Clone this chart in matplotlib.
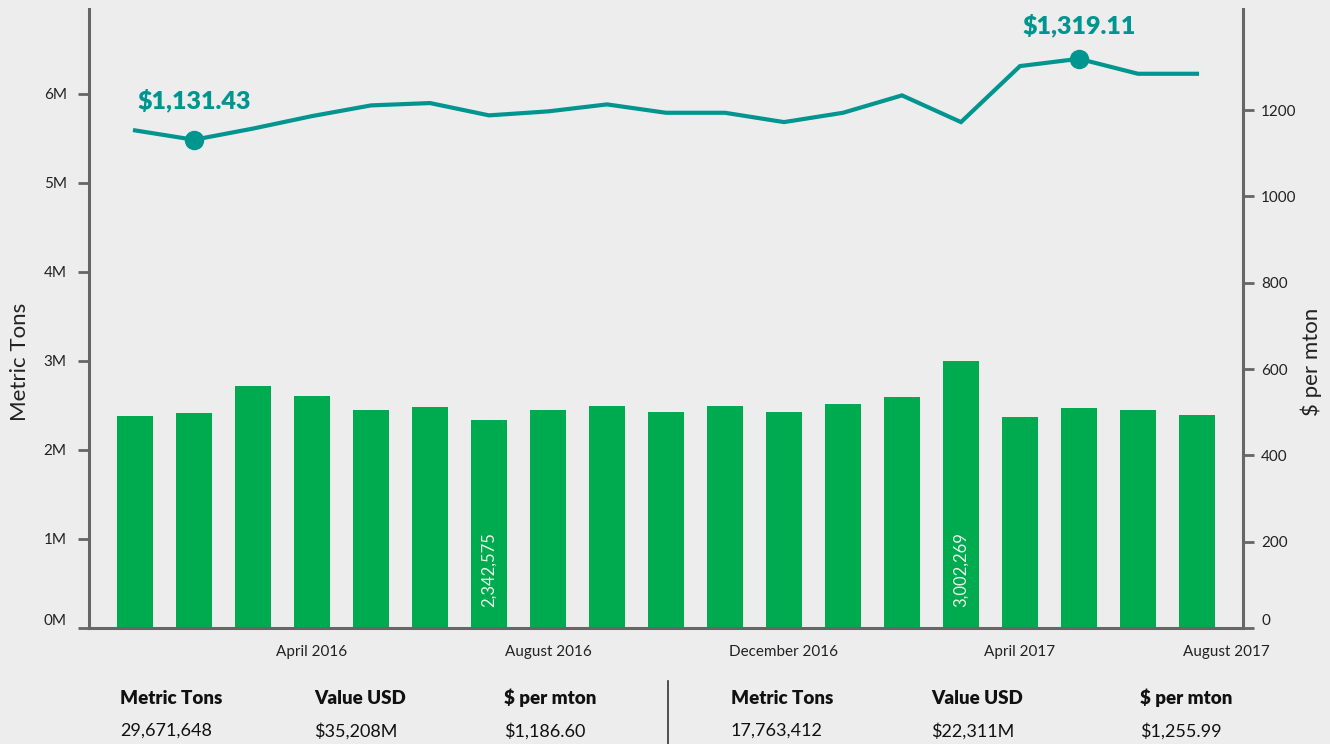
import matplotlib
matplotlib.use('Agg')
import matplotlib.pyplot as plt
import numpy as np

plt.rcParams['font.family'] = ['Lato', 'DejaVu Sans']

# monthly data, Jan 2016 - Jul 2017
months = ['Jan 2016', 'Feb 2016', 'Mar 2016', 'Apr 2016', 'May 2016', 'Jun 2016',
          'Jul 2016', 'Aug 2016', 'Sep 2016', 'Oct 2016', 'Nov 2016', 'Dec 2016',
          'Jan 2017', 'Feb 2017', 'Mar 2017', 'Apr 2017', 'May 2017', 'Jun 2017', 'Jul 2017']
metric_tons = [2382000, 2416000, 2719000, 2607000, 2449000, 2483000, 2342575, 2449000,
               2494000, 2427000, 2494000, 2427000, 2517000, 2596000, 3002269, 2371000,
               2472000, 2449000, 2393000]
price_per_mton = [1153.2, 1131.43, 1157.4, 1186.3, 1211.1, 1216.5, 1188.0, 1197.2, 1213.4,
                  1194.0, 1194.0, 1172.4, 1194.0, 1234.3, 1172.4, 1302.2, 1319.11, 1284.4, 1284.4]

tick_labels = ['April 2016', 'August 2016', 'December 2016', 'April 2017', 'August 2017']
tick_pos = [3, 7, 11, 15, 18.5]

summary_headers = ['Metric Tons', 'Value USD', '$ per mton']
period1_values = ['29,671,648', '$35,208M', '$1,186.60']
period2_values = ['17,763,412', '$22,311M', '$1,255.99']

bg = '#ededed'
green = '#00aa4e'
teal = '#00968f'
axis_col = '#666666'
txt = '#222222'

fig = plt.figure(figsize=(13.3, 7.44), dpi=100, facecolor=bg)
ax = fig.add_axes([89/1330, 116/744, 1154/1330, 619/744])
ax.set_facecolor(bg)
ax2 = ax.twinx()

x = np.arange(len(months))
tons = np.array(metric_tons)
price = np.array(price_per_mton)

ax.bar(x, tons, width=0.61, color=green, zorder=2)
for i in [tons.argmin(), tons.argmax()]:
    ax.annotate(f'{tons[i]:,}', xy=(x[i], 0), xytext=(0, 15), textcoords='offset points',
                rotation=90, ha='center', va='bottom', color='#e8f5ec', fontsize=12)

ax2.plot(x, price, color=teal, lw=3, solid_joinstyle='miter', zorder=3)
for i, dy in [(price.argmin(), 28), (price.argmax(), 24)]:
    ax2.plot(x[i], price[i], 'o', color=teal, ms=13, zorder=4)
    ax2.annotate(f'${price[i]:,.2f}', xy=(x[i], price[i]), xytext=(0, dy),
                 textcoords='offset points', ha='center', va='center',
                 color=teal, fontsize=18, fontweight='heavy')

ax.set_xlim(-0.78, len(months) - 0.22)
ax.set_ylim(0, 6.955e6)
ax.set_yticks(np.arange(0, 7e6, 1e6))
ax.set_yticklabels([f'{v/1e6:.0f}M' for v in np.arange(0, 7e6, 1e6)])
ax2.set_ylim(0, 1434.5)
ax2.set_yticks(np.arange(0, 1400, 200))

ax.set_xticks(tick_pos)
ax.set_xticklabels(tick_labels)

for a in (ax, ax2):
    for s in a.spines.values():
        s.set_visible(False)
ax.spines['left'].set_visible(True)
ax.spines['bottom'].set_visible(True)
ax2.spines['right'].set_visible(True)
for s in (ax.spines['left'], ax.spines['bottom'], ax2.spines['right']):
    s.set_color(axis_col)
    s.set_linewidth(2.2)
    s.set_zorder(5)

ax.tick_params(axis='y', length=8, width=2, color=axis_col, pad=8, labelsize=11, labelcolor=txt)
ax.tick_params(axis='x', length=0, pad=12, labelsize=11, labelcolor=txt)
ax2.tick_params(axis='y', length=8, width=2, color=axis_col, pad=5, labelsize=11, labelcolor=txt)
# zero labels sit just above the baseline
ax.get_yticklabels()[0].set_va('bottom')
ax2.get_yticklabels()[0].set_va('bottom')

ax.set_ylabel('Metric Tons', fontsize=16, color=txt)
ax.yaxis.set_label_coords(-0.051, 0.43)
ax2.set_ylabel('$ per mton', fontsize=16, color=txt)
ax2.yaxis.set_label_coords(1.0494, 0.43)

# summary table below the chart
col_x = [120, 314, 504, 731, 931, 1140]
for j, (h, v) in enumerate(zip(summary_headers * 2, period1_values + period2_values)):
    fig.text(col_x[j] / 1330, 1 - 698 / 744, h, fontsize=13.5, fontweight='heavy',
             color='#111111', ha='left', va='center')
    fig.text(col_x[j] / 1330, 1 - 731 / 744, v, fontsize=13,
             color='#111111', ha='left', va='center')
fig.add_artist(plt.Line2D([668/1330, 668/1330], [0, 1 - 681/744], color='#333333', lw=1.2))

fig.savefig('out.png', dpi=100, facecolor=bg)
